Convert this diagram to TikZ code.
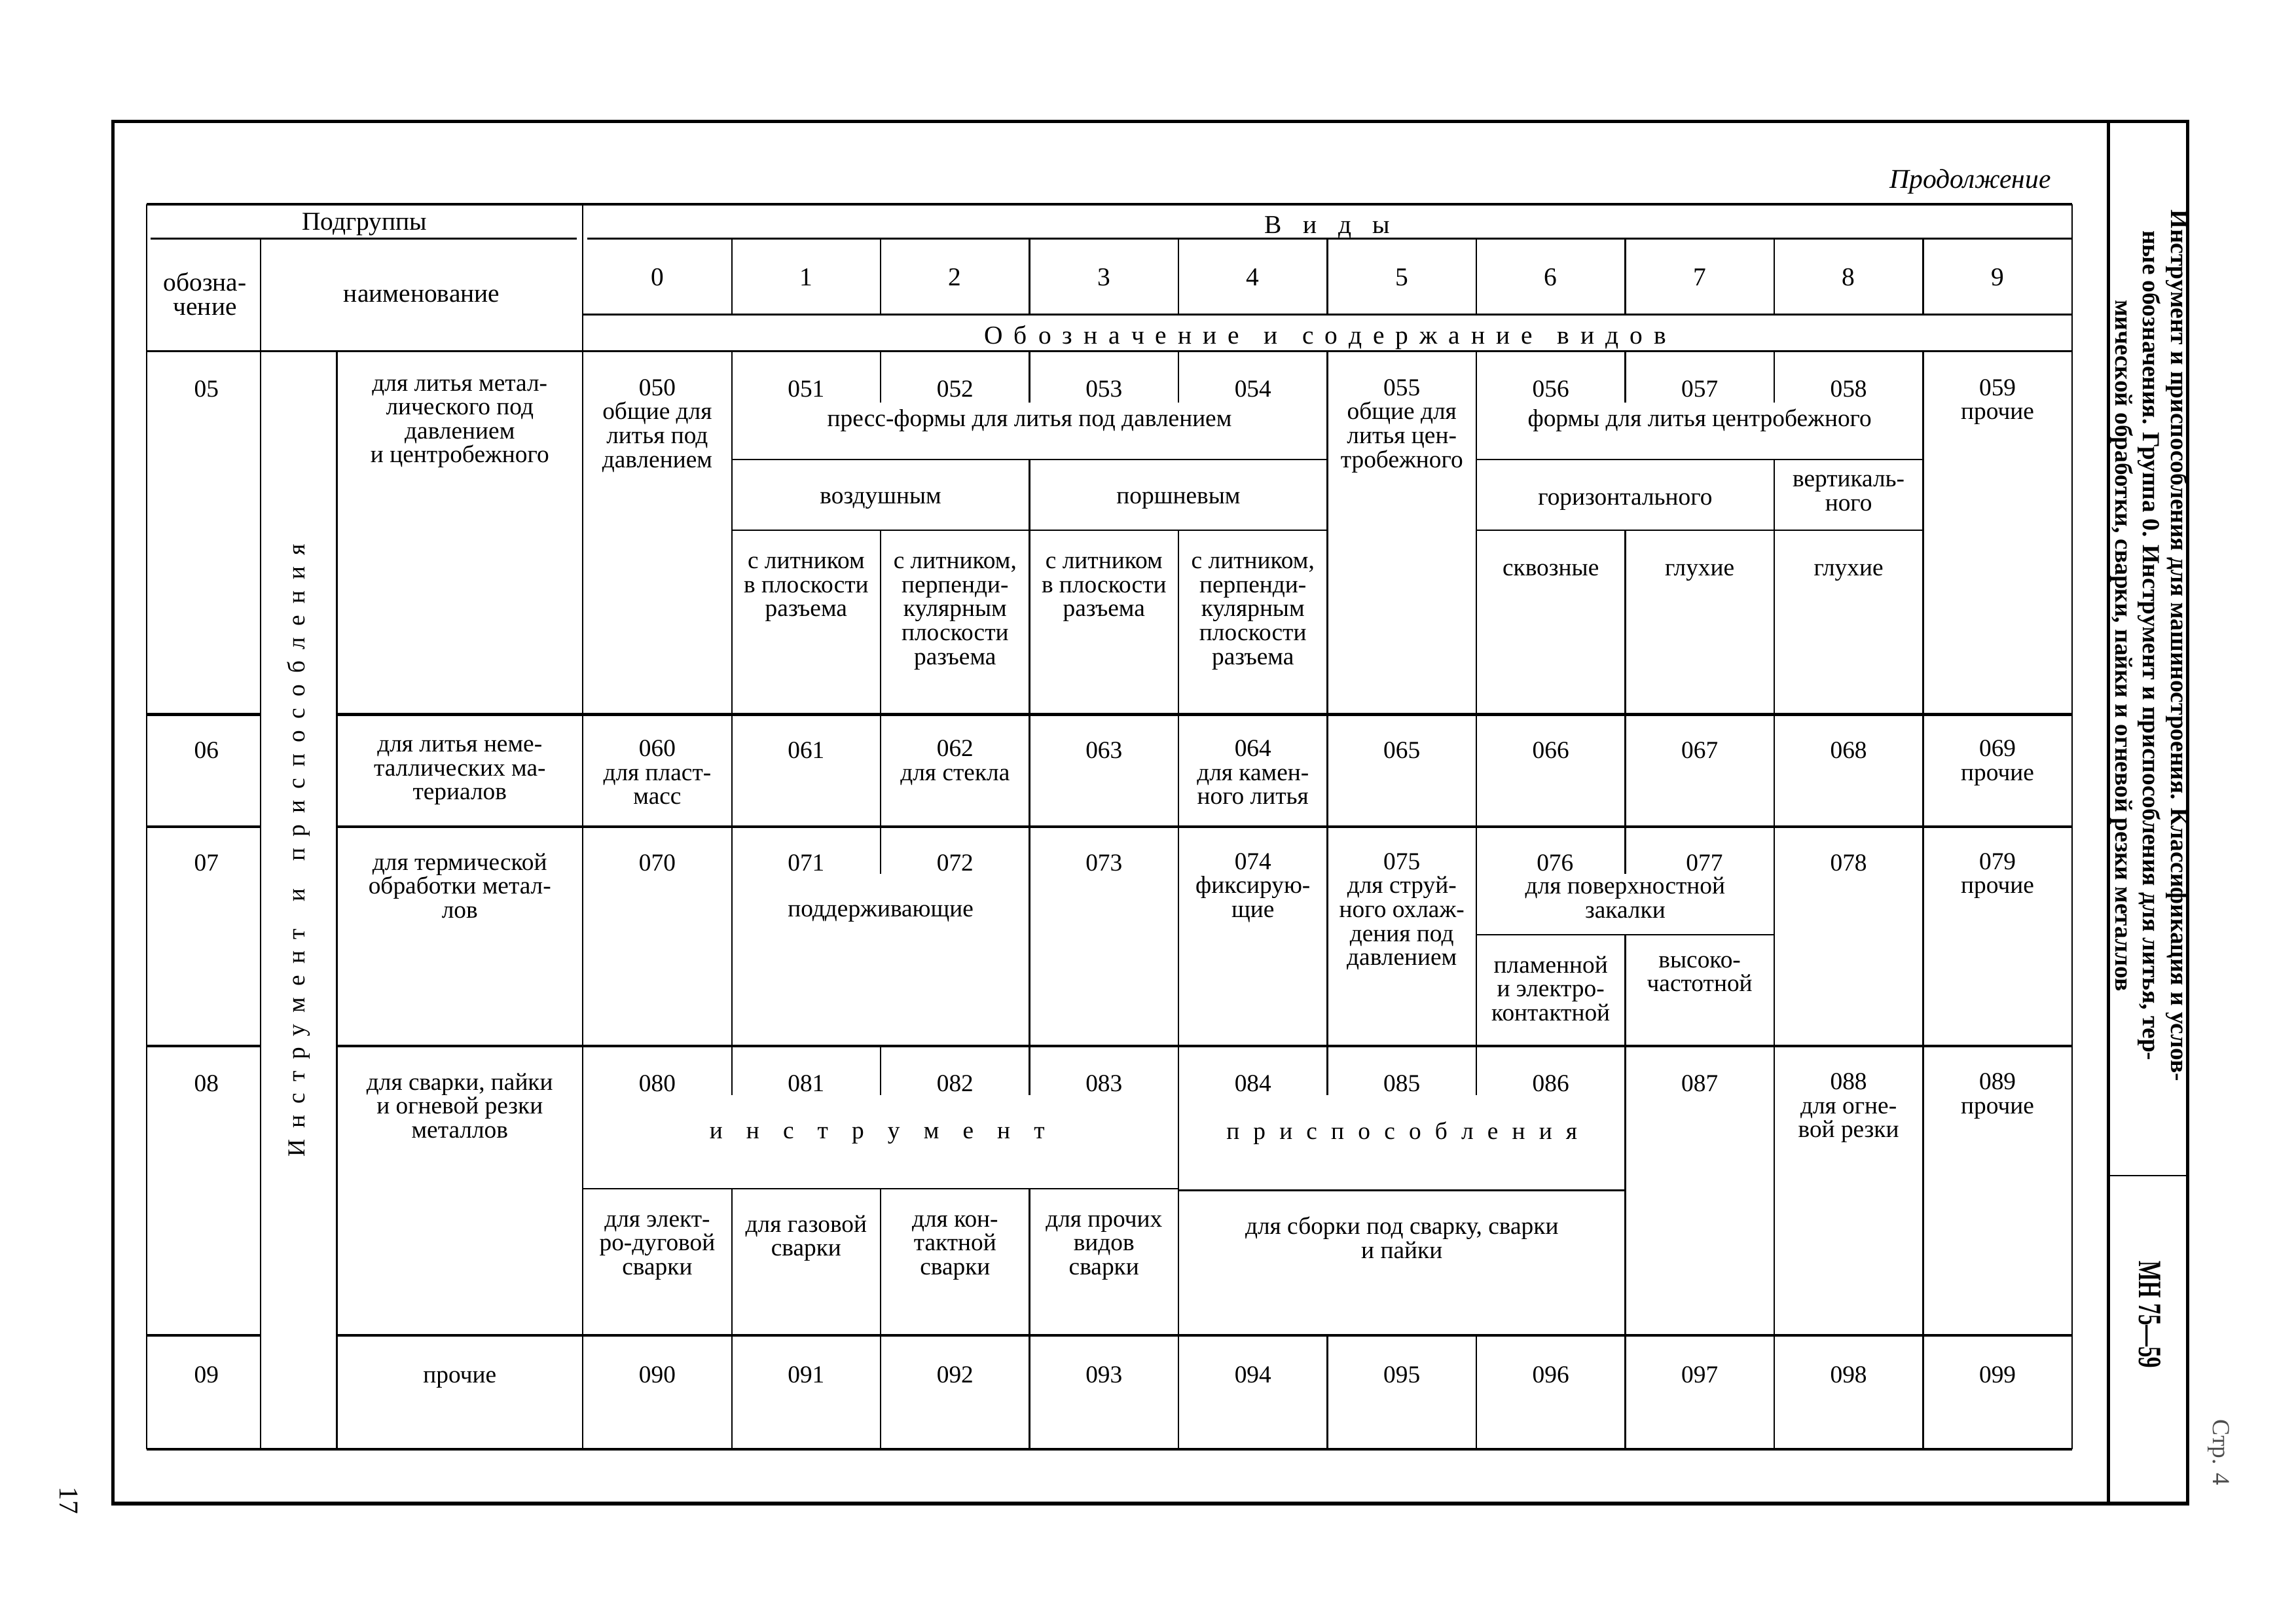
\documentclass[tikz,border=0pt]{standalone}
\usepackage{fontspec}
\usepackage{graphicx}
\setmainfont{Liberation Serif}
\makeatletter
\newcommand\spw[2]{\def\spw@gap{#1}\let\spw@sep\relax\@tfor\spw@c:=#2\do{\spw@sep\spw@c\def\spw@sep{\hspace{\spw@gap}}}}
\makeatother
\newcommand\bodyfont{\fontsize{9}{8.8}\selectfont\lineskiplimit=-20pt}
\newcommand\headfont{\fontsize{9.5}{9}\selectfont\lineskiplimit=-20pt}
\begin{document}
\begin{tikzpicture}[x=0.018941cm,y=-0.018941cm,
  cell/.style={anchor=north,yshift=6.6pt,inner sep=0pt,align=center,font=\bodyfont,execute at begin node={\rule{0pt}{6.6pt}}},
  hcell/.style={cell,font=\headfont},
  frame/.style={line width=1.3pt},
  rowline/.style={line width=1pt},
  midline/.style={line width=0.7pt},
  thin/.style={line width=0.55pt}]
\useasboundingbox (0,0) rectangle (1568,1109);

% ---------- outer frame ----------
\draw[frame] (77,83) rectangle (1494,1027);
\draw[frame] (1440,83) -- (1440,1027);
\draw[midline] (1440,803) -- (1494,803);

% ---------- table frame ----------
\draw[rowline] (100,139.5) -- (1415,139.5);
\draw[midline] (103,163) -- (394,163);
\draw[midline] (401,163) -- (1415,163);
\draw[midline] (398,215) -- (1415,215);
\draw[midline] (100,240) -- (1415,240);
\foreach \y in {488,564.5,714.4,912} {
  \draw[rowline] (100,\y) -- (178,\y);
  \draw[rowline] (230,\y) -- (1415,\y);
}
\draw[rowline] (100,990) -- (1415,990);

\draw[thin] (100,139.5) -- (100,990);
\draw[thin] (178,163) -- (178,990);
\draw[thin] (230,240) -- (230,990);
\draw[thin] (398,139.5) -- (398,990);
\draw[thin] (1415,139.5) -- (1415,990);
\foreach \x in {499.7,601.4,703.1,804.8,906.5,1008.2,1109.9,1211.6,1313.3}
  \draw[thin] (\x,163) -- (\x,215);

% row 05
\foreach \x in {499.7,906.5,1008.2,1313.3} \draw[thin] (\x,240) -- (\x,488);
\foreach \x in {601.4,703.1,804.8,1109.9,1211.6} \draw[thin] (\x,240) -- (\x,275);
\foreach \x in {601.4,804.8,1109.9} \draw[thin] (\x,362) -- (\x,488);
\foreach \x in {703.1,1211.6} \draw[thin] (\x,314) -- (\x,488);
\draw[thin] (499.7,314) -- (906.5,314);
\draw[thin] (499.7,362) -- (906.5,362);
\draw[thin] (1008.2,314) -- (1313.3,314);
\draw[thin] (1008.2,362) -- (1313.3,362);
% row 06
\foreach \x in {499.7,601.4,703.1,804.8,906.5,1008.2,1109.9,1211.6,1313.3}
  \draw[thin] (\x,488) -- (\x,564.5);
% row 07
\foreach \x in {499.7,703.1,804.8,906.5,1008.2,1211.6,1313.3} \draw[thin] (\x,564.5) -- (\x,714.4);
\foreach \x in {601.4,1109.9} \draw[thin] (\x,564.5) -- (\x,597);
\draw[thin] (1109.9,638.5) -- (1109.9,714.4);
\draw[thin] (1008.2,638.5) -- (1211.6,638.5);
% row 08
\foreach \x in {804.8,1109.9,1211.6,1313.3} \draw[thin] (\x,714.4) -- (\x,912);
\foreach \x in {499.7,601.4,703.1,906.5,1008.2} \draw[thin] (\x,714.4) -- (\x,748);
\foreach \x in {499.7,601.4,703.1} \draw[thin] (\x,812) -- (\x,912);
\draw[thin] (398,812) -- (804.8,812);
\draw[thin] (804.8,813) -- (1109.9,813);
% row 09
\foreach \x in {499.7,601.4,703.1,804.8,906.5,1008.2,1109.9,1211.6,1313.3}
  \draw[thin] (\x,912) -- (\x,990);

% ---------- header texts ----------
\node[anchor=base east,inner sep=0pt,font=\itshape\fontsize{10}{10}\selectfont] (prod) at (1401,128.5) {Продолжение};
\node[hcell] (hpg) at (249,157) {Подгруппы};
\node[hcell] (hvid) at (906.5,159) {\spw{7.8pt}{Виды}};
\node[hcell] (hobz) at (140,198) {обозна-\\чение};
\node[hcell] (hnaim) at (288,206) {наименование};
\foreach \d/\x in {0/448.85,1/550.55,2/652.25,3/753.95,4/855.65,5/957.35,6/1059.05,7/1160.75,8/1262.45,9/1364.15}
  \node[hcell] (hd\d) at (\x,195) {\d};
\node[hcell] (hobs) at (905,234) {\spw{4.1pt}{Обозначение}\hspace{9pt}и\hspace{9pt}\spw{4.1pt}{содержание}\hspace{9pt}\spw{4.1pt}{видов}};

% vertical group text
\node[rotate=90,inner sep=0pt,font=\fontsize{9}{9}\selectfont] (grp) at (204,581)
  {\spw{4.15pt}{Инструмент}\hspace{10pt}и\hspace{10pt}\spw{4.15pt}{приспособления}};

% ---------- row 05 ----------
\node[cell] (k05) at (141,271) {05};
\node[cell] (s05) at (314,271) {для литья метал-\\лического под\\давлением\\и центробежного};
\node[cell] (v050) at (448.85,271) {050\\общие для\\литья под\\давлением};
\node[cell] (v051) at (550.55,271) {051};
\node[cell] (v052) at (652.25,271) {052};
\node[cell] (v053) at (753.95,271) {053};
\node[cell] (v054) at (855.65,271) {054};
\node[cell] (pf) at (703.1,291) {пресс-формы для литья под давлением};
\node[cell] (vozd) at (601.4,343.5) {воздушным};
\node[cell] (porsh) at (804.8,343.5) {поршневым};
\node[cell] (l1) at (550.55,392.5) {с литником\\в плоскости\\разъема};
\node[cell] (l2) at (652.25,392.5) {с литником,\\перпенди-\\кулярным\\плоскости\\разъема};
\node[cell] (l3) at (753.95,392.5) {с литником\\в плоскости\\разъема};
\node[cell] (l4) at (855.65,392.5) {с литником,\\перпенди-\\кулярным\\плоскости\\разъема};
\node[cell] (v055) at (957.35,271) {055\\общие для\\литья цен-\\тробежного};
\node[cell] (v056) at (1059.05,271) {056};
\node[cell] (v057) at (1160.75,271) {057};
\node[cell] (v058) at (1262.45,271) {058};
\node[cell] (fc) at (1160.75,291) {формы для литья центробежного};
\node[cell] (gor) at (1109.9,344.5) {горизонтального};
\node[cell] (vert) at (1262.45,336.5) {вертикаль-\\ного};
\node[cell] (skv) at (1059.05,393) {сквозные};
\node[cell] (gl1) at (1160.75,393) {глухие};
\node[cell] (gl2) at (1262.45,393) {глухие};
\node[cell] (v059) at (1364.15,271) {059\\прочие};

% ---------- row 06 ----------
\node[cell] (k06) at (141,517.5) {06};
\node[cell] (s06) at (314,517.5) {для литья неме-\\таллических ма-\\териалов};
\node[cell] (v060) at (448.85,517.5) {060\\для пласт-\\масс};
\node[cell] (v061) at (550.55,517.5) {061};
\node[cell] (v062) at (652.25,517.5) {062\\для стекла};
\node[cell] (v063) at (753.95,517.5) {063};
\node[cell] (v064) at (855.65,517.5) {064\\для камен-\\ного литья};
\node[cell] (v065) at (957.35,517.5) {065};
\node[cell] (v066) at (1059.05,517.5) {066};
\node[cell] (v067) at (1160.75,517.5) {067};
\node[cell] (v068) at (1262.45,517.5) {068};
\node[cell] (v069) at (1364.15,517.5) {069\\прочие};

% ---------- row 07 ----------
\node[cell] (k07) at (141,594.7) {07};
\node[cell] (s07) at (314,594.7) {для термической\\обработки метал-\\лов};
\node[cell] (v070) at (448.85,594.7) {070};
\node[cell] (v071) at (550.55,594.7) {071};
\node[cell] (v072) at (652.25,594.7) {072};
\node[cell] (podd) at (601.4,626) {поддерживающие};
\node[cell] (v073) at (753.95,594.7) {073};
\node[cell] (v074) at (855.65,594.7) {074\\фиксирую-\\щие};
\node[cell] (v075) at (957.35,594.7) {075\\для струй-\\ного охлаж-\\дения под\\давлением};
\node[cell] (v076) at (1062,594.7) {076};
\node[cell] (v077) at (1164,594.7) {077};
\node[cell] (pov) at (1109.9,611) {для поверхностной\\закалки};
\node[cell] (plam) at (1059.05,665) {пламенной\\и электро-\\контактной};
\node[cell] (vys) at (1160.75,665) {высоко-\\частотной};
\node[cell] (v078) at (1262.45,594.7) {078};
\node[cell] (v079) at (1364.15,594.7) {079\\прочие};

% ---------- row 08 ----------
\node[cell] (k08) at (141,745) {08};
\node[cell] (s08) at (314,745) {для сварки, пайки\\и огневой резки\\металлов};
\node[cell] (v080) at (448.85,745) {080};
\node[cell] (v081) at (550.55,745) {081};
\node[cell] (v082) at (652.25,745) {082};
\node[cell] (v083) at (753.95,745) {083};
\node[cell] (instr) at (599,777.5) {\spw{8.7pt}{инструмент}};
\node[cell] (sv1) at (448.85,842) {для элект-\\ро-дуговой\\сварки};
\node[cell] (sv2) at (550.55,842) {для газовой\\сварки};
\node[cell] (sv3) at (652.25,842) {для кон-\\тактной\\сварки};
\node[cell] (sv4) at (753.95,842) {для прочих\\видов\\сварки};
\node[cell] (v084) at (855.65,745) {084};
\node[cell] (v085) at (957.35,745) {085};
\node[cell] (v086) at (1059.05,745) {086};
\node[cell] (prisp) at (957.35,778) {\spw{5.1pt}{приспособления}};
\node[cell] (sbor) at (957.35,843) {для сборки под сварку, сварки\\и пайки};
\node[cell] (v087) at (1160.75,745) {087};
\node[cell] (v088) at (1262.45,745) {088\\для огне-\\вой резки};
\node[cell] (v089) at (1364.15,745) {089\\прочие};

% ---------- row 09 ----------
\node[cell] (k09) at (141,944) {09};
\node[cell] (s09) at (314,944) {прочие};
\foreach \i/\x in {0/448.85,1/550.55,2/652.25,3/753.95,4/855.65,5/957.35,6/1059.05,7/1160.75,8/1262.45,9/1364.15}
  \node[cell] (v09\i) at (\x,944) {09\i};

% ---------- side strip ----------
\node[rotate=-90,inner sep=0pt,align=center,font=\bfseries\fontsize{9}{10.2}\selectfont] (title) at (1468,441)
  {Инструмент и приспособления для машиностроения. Классификация и услов-\\ные обозначения. Группа 0. Инструмент и приспособления для литья, тер-\\мической обработки, сварки, пайки и огневой резки металлов};
\node[rotate=-90,inner sep=0pt,font=\bfseries\fontsize{12}{12}\selectfont] (mn) at (1468,898) {\scalebox{0.66}[1]{МН 75—59}};
\node[rotate=-90,inner sep=0pt,font=\fontsize{9}{9}\selectfont,text=black!70] (str) at (1515,992) {Стр. 4};
\node[rotate=-90,inner sep=0pt,font=\fontsize{10}{10}\selectfont] (pg) at (47,1025) {17};
\end{tikzpicture}
\end{document}
